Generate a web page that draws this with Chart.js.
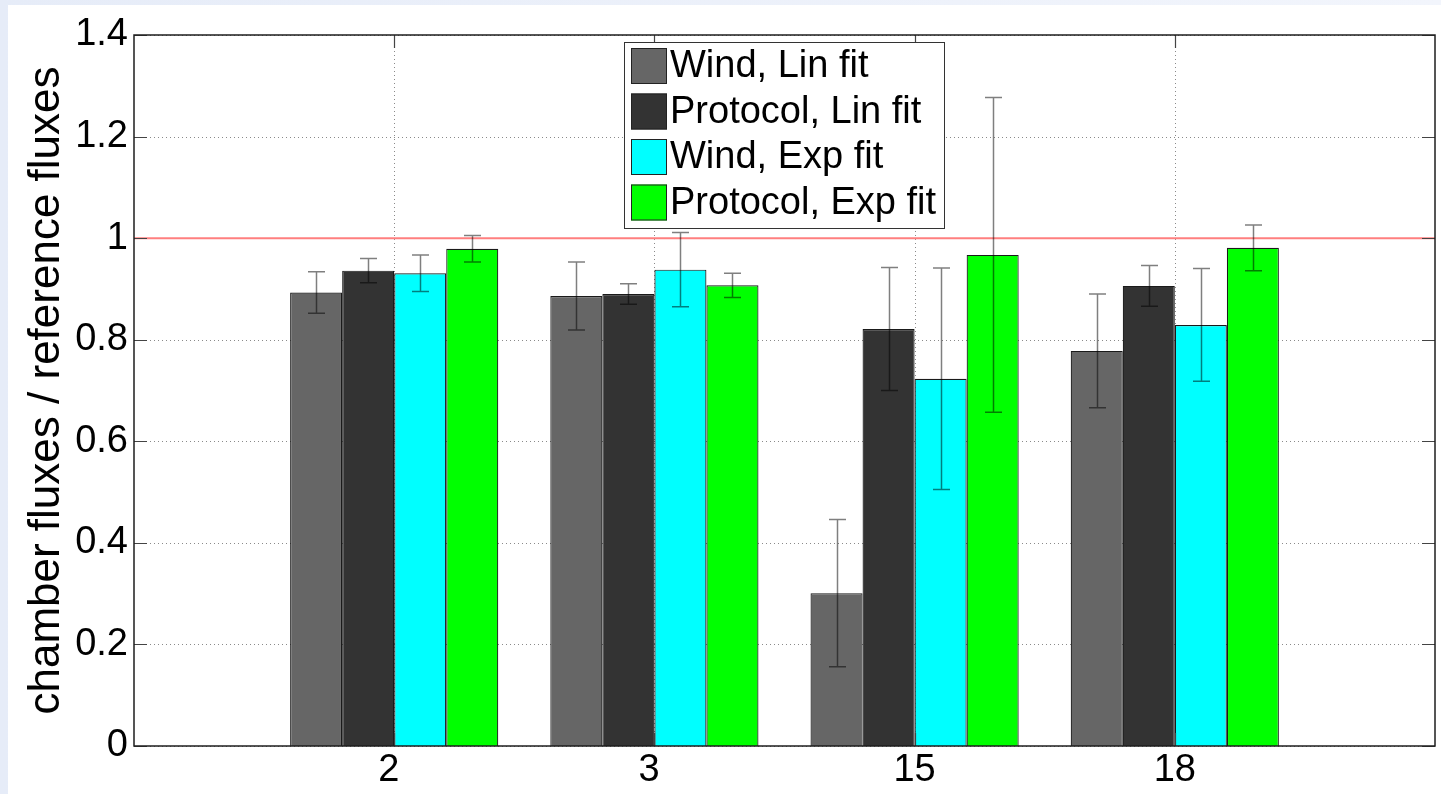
<!DOCTYPE html>
<html>
<head>
<meta charset="utf-8">
<script src="https://cdn.jsdelivr.net/npm/chart.js@4/dist/chart.umd.min.js"></script>
<style>
  html, body { margin: 0; padding: 0; background: #ffffff; overflow: hidden; }
  #wrap { position: absolute; left: 0; top: 0; width: 1441px; height: 794px; }
  canvas { display: block; }
</style>
</head>
<body>
<div id="wrap"><canvas id="c" width="1441" height="794"></canvas></div>
<script>
// ---- data ----
// MATLAB char-matrix tick labels (short labels padded with a trailing space)
const categories = ['2 ', '3 ', '15', '18'];
const seriesLabels = ['Wind, Lin fit', 'Protocol, Lin fit', 'Wind, Exp fit', 'Protocol, Exp fit'];
const seriesColors = ['#666666', '#333333', '#00ffff', '#00ff00'];

const windLin     = [0.893, 0.886, 0.301, 0.778];
const windLinErr  = [0.041, 0.067, 0.145, 0.112];
const protLin     = [0.936, 0.890, 0.821, 0.906];
const protLinErr  = [0.024, 0.020, 0.121, 0.040];
const windExp     = [0.931, 0.938, 0.723, 0.829];
const windExpErr  = [0.036, 0.073, 0.218, 0.111];
const protExp     = [0.979, 0.907, 0.967, 0.981];
const protExpErr  = [0.026, 0.024, 0.310, 0.045];

const referenceLevel = 1;
const yTickLabels = ['0', '0.2', '0.4', '0.6', '0.8', '1', '1.2', '1.4'];
const yTitle = 'chamber fluxes / reference fluxes';

const seriesValues = [windLin, protLin, windExp, protExp];
const seriesErrors = [windLinErr, protLinErr, windExpErr, protExpErr];

const FONT = '"Liberation Sans", Arial, sans-serif';

const datasets = seriesValues.map((vals, s) => ({
  label: seriesLabels[s],
  data: categories.map((c, i) => ({ x: i + 1, y: vals[i] })),
  backgroundColor: seriesColors[s],
  borderColor: '#1a1a1a',
  borderWidth: 1.2,
  categoryPercentage: 0.8,
  barPercentage: 1.0
}));

const matlabPlugin = {
  id: 'matlab',
  beforeDraw(chart) {
    const ctx = chart.ctx;
    const W = chart.width, H = chart.height;
    ctx.save();
    const g = ctx.createLinearGradient(0, 0, W, 0);
    g.addColorStop(0, '#e6ecf8');
    g.addColorStop(1, '#f2f5fc');
    ctx.fillStyle = g;
    ctx.fillRect(0, 0, W, H);
    ctx.fillStyle = '#ffffff';
    ctx.fillRect(8, 5, W - 8, H - 5);
    ctx.restore();
  },
  beforeDatasetsDraw(chart) {
    const ctx = chart.ctx;
    const a = chart.chartArea;
    const xs = chart.scales.x, ys = chart.scales.y;
    ctx.save();
    ctx.strokeStyle = '#8a8a8a';
    ctx.lineWidth = 1;
    ctx.setLineDash([1, 3]);
    ys.ticks.forEach(t => {
      const y = Math.round(ys.getPixelForValue(t.value)) + 0.5;
      ctx.beginPath(); ctx.moveTo(a.left, y); ctx.lineTo(a.right, y); ctx.stroke();
    });
    xs.ticks.forEach(t => {
      const x = Math.round(xs.getPixelForValue(t.value)) + 0.5;
      ctx.beginPath(); ctx.moveTo(x, a.top); ctx.lineTo(x, a.bottom); ctx.stroke();
    });
    ctx.setLineDash([]);
    // reference line
    const ry = ys.getPixelForValue(referenceLevel);
    ctx.strokeStyle = '#ff7f7f';
    ctx.lineWidth = 2;
    ctx.beginPath(); ctx.moveTo(a.left, ry); ctx.lineTo(a.right, ry); ctx.stroke();
    ctx.restore();
  },
  afterDatasetsDraw(chart) {
    const ctx = chart.ctx;
    const a = chart.chartArea;
    const xs = chart.scales.x, ys = chart.scales.y;
    ctx.save();
    // error bars
    ctx.strokeStyle = 'rgba(0,0,0,0.5)';
    ctx.lineWidth = 1.5;
    seriesValues.forEach((vals, s) => {
      const meta = chart.getDatasetMeta(s);
      meta.data.forEach((bar, i) => {
        const x = Math.round(bar.x) + 0.5;
        const yt = ys.getPixelForValue(vals[i] + seriesErrors[s][i]);
        const yb = ys.getPixelForValue(vals[i] - seriesErrors[s][i]);
        const cw = 8.5;
        ctx.beginPath();
        ctx.moveTo(x, yt); ctx.lineTo(x, yb);
        ctx.moveTo(x - cw, yt); ctx.lineTo(x + cw, yt);
        ctx.moveTo(x - cw, yb); ctx.lineTo(x + cw, yb);
        ctx.stroke();
      });
    });
    // tick marks (inside)
    ctx.strokeStyle = '#444';
    ctx.lineWidth = 1.2;
    const tl = 13;
    ys.ticks.forEach(t => {
      const y = Math.round(ys.getPixelForValue(t.value)) + 0.5;
      ctx.beginPath();
      ctx.moveTo(a.left, y); ctx.lineTo(a.left + tl, y);
      ctx.moveTo(a.right, y); ctx.lineTo(a.right - tl, y);
      ctx.stroke();
    });
    xs.ticks.forEach(t => {
      const x = Math.round(xs.getPixelForValue(t.value)) + 0.5;
      ctx.beginPath();
      ctx.moveTo(x, a.bottom); ctx.lineTo(x, a.bottom - tl);
      ctx.moveTo(x, a.top); ctx.lineTo(x, a.top + tl);
      ctx.stroke();
    });
    // frame
    ctx.strokeStyle = '#1e1e1e';
    ctx.lineWidth = 1.5;
    ctx.strokeRect(a.left, a.top, a.right - a.left, a.bottom - a.top);
    // legend
    const lx = 624, ly = 42, lw = 320, lh = 186;
    ctx.fillStyle = '#ffffff';
    ctx.fillRect(lx, ly, lw, lh);
    ctx.strokeStyle = '#333333';
    ctx.lineWidth = 1;
    ctx.strokeRect(lx + 0.5, ly + 0.5, lw, lh);
    ctx.font = '38px ' + FONT;
    ctx.textBaseline = 'middle';
    ctx.textAlign = 'left';
    chart.data.datasets.forEach((ds, s) => {
      const cy = 66 + s * 45.5;
      ctx.fillStyle = ds.backgroundColor;
      ctx.fillRect(631, cy - 18, 36, 36);
      ctx.strokeStyle = '#222';
      ctx.strokeRect(631.5, cy - 17.5, 35, 35);
      ctx.fillStyle = '#000';
      ctx.fillText(ds.label, 670, cy + 1);
    });
    ctx.restore();
  }
};

new Chart(document.getElementById('c'), {
  type: 'bar',
  data: { datasets },
  plugins: [matlabPlugin],
  options: {
    responsive: false,
    animation: false,
    devicePixelRatio: 1,
    layout: { padding: { left: 0, top: 35, right: 6, bottom: 0 } },
    plugins: { legend: { display: false }, tooltip: { enabled: false } },
    scales: {
      x: {
        type: 'linear',
        min: 0, max: 5,
        offset: false,
        grid: { display: false, offset: false, drawTicks: false },
        border: { display: false },
        afterBuildTicks: (scale) => { scale.ticks = categories.map((c, i) => ({ value: i + 1 })); },
        afterFit: (scale) => { scale.height = 48; },
        ticks: {
          padding: 2,
          color: '#000',
          font: { family: FONT, size: 38 },
          maxRotation: 0,
          autoSkip: false,
          callback: (v, i) => categories[i]
        }
      },
      y: {
        min: 0, max: 1.4,
        grid: { display: false, drawTicks: false },
        border: { display: false },
        afterFit: (scale) => { scale.width = 134; },
        ticks: {
          stepSize: 0.2,
          padding: 6,
          color: '#000',
          font: { family: FONT, size: 38 },
          callback: (v, i) => yTickLabels[i]
        },
        title: {
          display: true,
          text: yTitle,
          color: '#000',
          font: { family: FONT, size: 44, lineHeight: 1.2 },
          padding: { top: 20, bottom: 0 }
        }
      }
    }
  }
});
</script>
</body>
</html>
